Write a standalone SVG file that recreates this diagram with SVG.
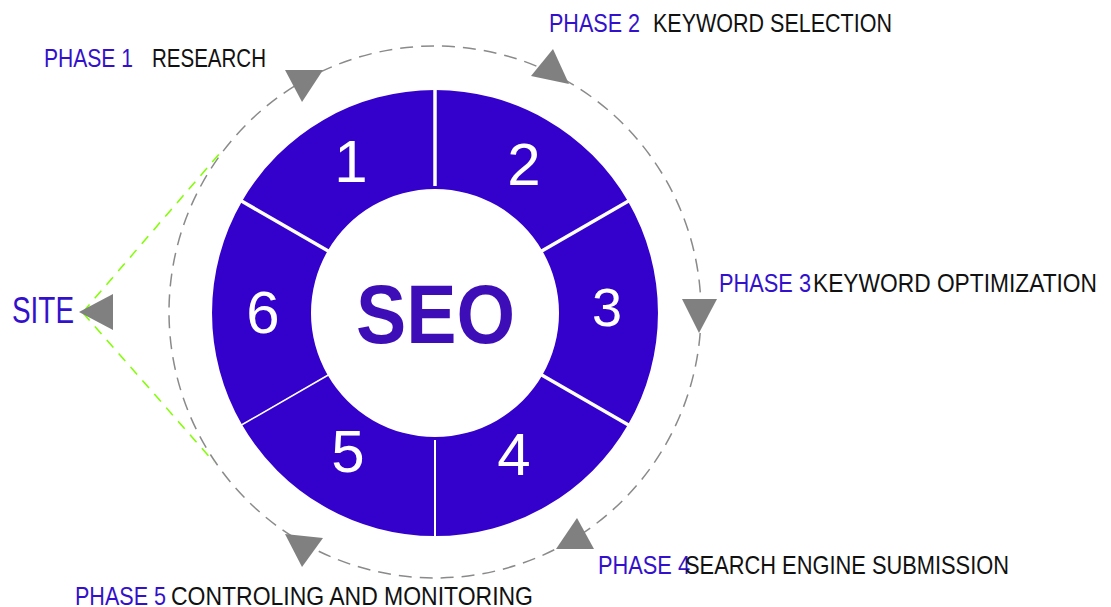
<svg xmlns="http://www.w3.org/2000/svg" width="1111" height="607" viewBox="0 0 1111 607">
<style>
.seg{fill:#3300cc}
.sep{stroke:#ffffff;fill:none}
.num{font-family:"Liberation Sans",Arial,sans-serif;fill:#ffffff;text-anchor:middle}
.lbl{font-family:"Liberation Sans Narrow","Liberation Sans",Arial,sans-serif;font-size:26px}
.ph{fill:#3311cc}
.tx{fill:#111111}
.tri{fill:#808080}
.dash{fill:none;stroke:#8a8a8a;stroke-width:1.5;stroke-dasharray:13 8}
.green{fill:none;stroke:#80ff00;stroke-width:1.5;stroke-dasharray:10 8}
</style>
<rect width="1111" height="607" fill="#ffffff"/>
<g id="connectors">
<circle class="dash" cx="435" cy="312" r="266"/>
<line class="green" x1="83" y1="312" x2="220" y2="153"/>
<line class="green" x1="83" y1="313" x2="214" y2="462"/>
<polygon class="tri" points="285,70 323,70 302,102"/>
<polygon class="tri" points="553,49 531,76 569,84"/>
<polygon class="tri" points="682,299 717,299 699,333"/>
<polygon class="tri" points="577,518 556,549 594,549"/>
<polygon class="tri" points="285,534 323,538 302,567"/>
<polygon class="tri" points="79,312 113,294 113,330"/>
</g>
<g id="ring">
<g id="seg1"><path class="seg" d="M435,90 A223,223 0 0 0 241.9,201.5 L327.6,251 A124,124 0 0 1 435,189 Z"/><text class="num" x="351" y="182" font-size="60">1</text></g>
<g id="seg2"><path class="seg" d="M628.1,201.5 A223,223 0 0 0 435,90 L435,189 A124,124 0 0 1 542.4,251 Z"/><text class="num" x="524" y="185" font-size="60">2</text></g>
<g id="seg3"><path class="seg" d="M628.1,424.5 A223,223 0 0 0 628.1,201.5 L542.4,251 A124,124 0 0 1 542.4,375 Z"/><text class="num" x="607" y="326" font-size="54">3</text></g>
<g id="seg4"><path class="seg" d="M435,536 A223,223 0 0 0 628.1,424.5 L542.4,375 A124,124 0 0 1 435,437 Z"/><text class="num" x="514" y="475" font-size="60">4</text></g>
<g id="seg5"><path class="seg" d="M241.9,424.5 A223,223 0 0 0 435,536 L435,437 A124,124 0 0 1 327.6,375 Z"/><text class="num" x="348" y="472" font-size="60">5</text></g>
<g id="seg6"><path class="seg" d="M241.9,201.5 A223,223 0 0 0 241.9,424.5 L327.6,375 A124,124 0 0 1 327.6,251 Z"/><text class="num" x="263" y="333" font-size="60">6</text></g>
<line class="sep" x1="435" y1="186" x2="435" y2="86" stroke-width="3.5"/>
<line class="sep" x1="540" y1="252" x2="632" y2="199" stroke-width="3.5"/>
<line class="sep" x1="540" y1="374" x2="632" y2="427" stroke-width="3.5"/>
<line class="sep" x1="435" y1="440" x2="435" y2="540" stroke-width="2"/>
<line class="sep" x1="330" y1="374" x2="238" y2="427" stroke-width="1.5"/>
<line class="sep" x1="330" y1="252" x2="238" y2="199" stroke-width="3.5"/>
</g>
<g id="center">
<text x="435.5" y="343" font-family="Liberation Sans,Arial,sans-serif" font-weight="bold" font-size="84" fill="#3d0db8" text-anchor="middle" textLength="159" lengthAdjust="spacingAndGlyphs">SEO</text>
</g>
<g id="phase1"><text class="lbl ph" x="44" y="67" textLength="89" lengthAdjust="spacingAndGlyphs">PHASE 1</text><text class="lbl tx" x="152" y="67" textLength="114" lengthAdjust="spacingAndGlyphs">RESEARCH</text></g>
<g id="phase2"><text class="lbl ph" x="549" y="32" textLength="91" lengthAdjust="spacingAndGlyphs">PHASE 2</text><text class="lbl tx" x="653" y="32" textLength="239" lengthAdjust="spacingAndGlyphs">KEYWORD SELECTION</text></g>
<g id="phase3"><text class="lbl ph" x="719" y="292" textLength="92" lengthAdjust="spacingAndGlyphs">PHASE 3</text><text class="lbl tx" x="813" y="292" textLength="284" lengthAdjust="spacingAndGlyphs">KEYWORD OPTIMIZATION</text></g>
<g id="phase4"><text class="lbl ph" x="598" y="574" textLength="92" lengthAdjust="spacingAndGlyphs">PHASE 4</text><text class="lbl tx" x="685" y="574" textLength="324" lengthAdjust="spacingAndGlyphs">SEARCH ENGINE SUBMISSION</text></g>
<g id="phase5"><text class="lbl ph" x="75" y="605" textLength="91" lengthAdjust="spacingAndGlyphs">PHASE 5</text><text class="lbl tx" x="171" y="605" textLength="362" lengthAdjust="spacingAndGlyphs">CONTROLING AND MONITORING</text></g>
<g id="site"><text x="12" y="323" font-family="Liberation Sans Narrow,Liberation Sans,Arial,sans-serif" font-size="36" fill="#3311cc" textLength="62" lengthAdjust="spacingAndGlyphs">SITE</text></g>
</svg>
